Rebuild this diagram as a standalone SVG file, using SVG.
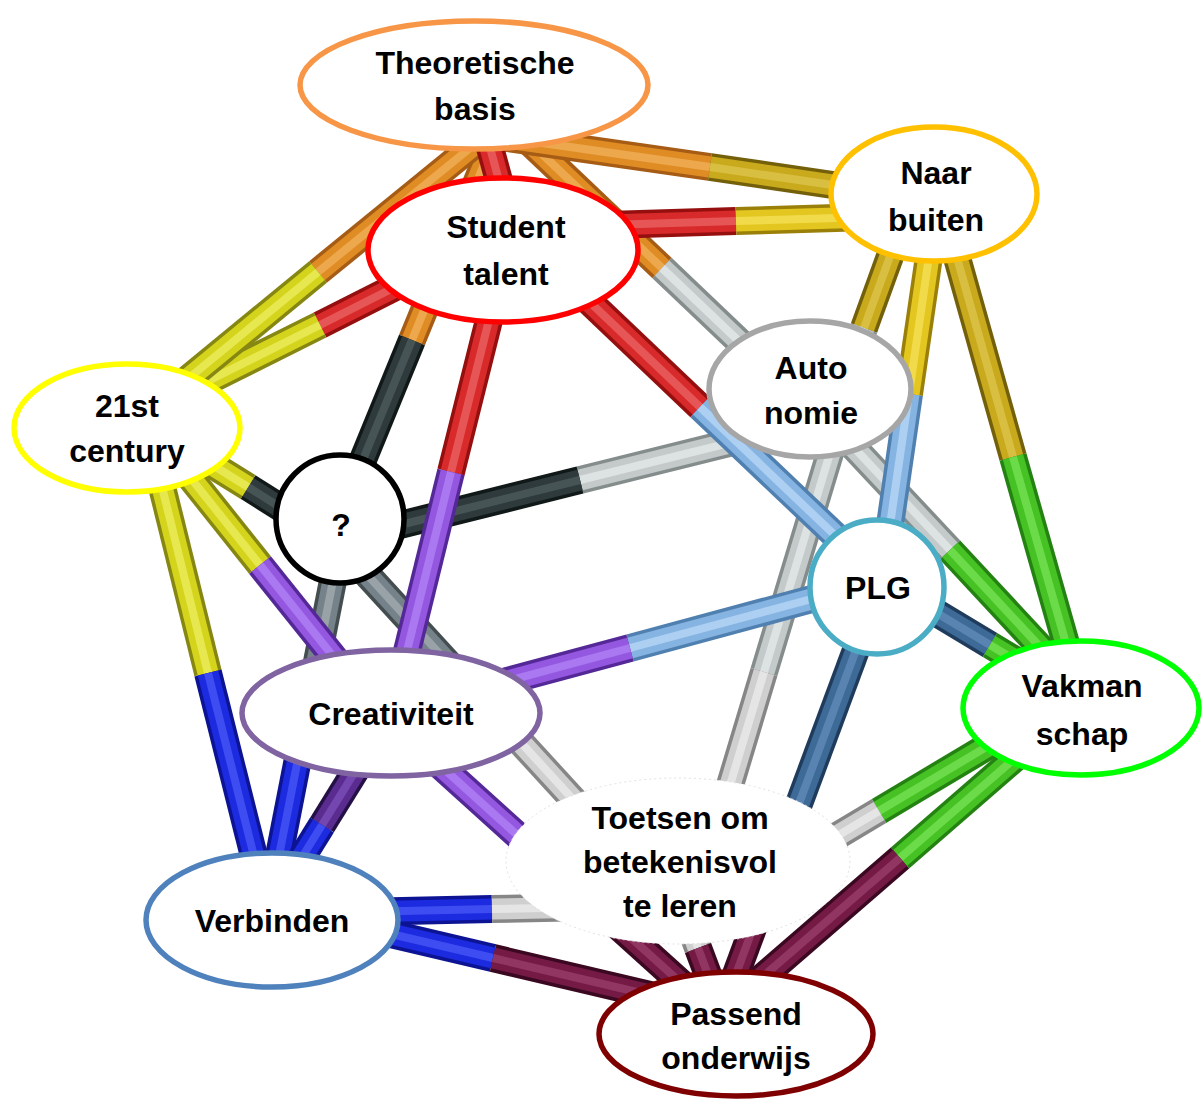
<svg xmlns="http://www.w3.org/2000/svg" width="1203" height="1099" viewBox="0 0 1203 1099">
<style>
text{font-family:"Liberation Sans",Arial,sans-serif;font-weight:bold;font-size:32px;text-anchor:middle;fill:#000}
.node ellipse,.node circle{fill:#fff;stroke-width:5.5}
#connectors line{fill:none;stroke-linecap:butt}
.o{stroke-width:28}.m{stroke-width:21}.h{stroke-width:8;stroke-opacity:.55}
.T .o{stroke:#a65c14}.T .m{stroke:#e08c24}.T .h{stroke:#f8c070}
.S .o{stroke:#960f0f}.S .m{stroke:#d82a2a}.S .h{stroke:#f27a7a}
.N .o{stroke:#9a8008}.N .m{stroke:#e4c620}.N .h{stroke:#fbec70}
.Nd .o{stroke:#74600a}.Nd .m{stroke:#c8aa1c}.Nd .h{stroke:#e8d060}
.C .o{stroke:#868612}.C .m{stroke:#d4d41c}.C .h{stroke:#f6f67a}
.A .o{stroke:#858c8c}.A .m{stroke:#c4c9c9}.A .h{stroke:#f2f5f5}
.Q .o{stroke:#101818}.Q .m{stroke:#2e3a3c}.Q .h{stroke:#5c6a6c}
.Qg .o{stroke:#444e50}.Qg .m{stroke:#76828a}.Qg .h{stroke:#b4bec0}
.P .o{stroke:#5080b0}.P .m{stroke:#86b4e2}.P .h{stroke:#cce6ff}
.Pd .o{stroke:#203c5c}.Pd .m{stroke:#3e6a98}.Pd .h{stroke:#7098c4}
.V .o{stroke:#248212}.V .m{stroke:#46c224}.V .h{stroke:#8cf068}
.Cr .o{stroke:#552898}.Cr .m{stroke:#9458e0}.Cr .h{stroke:#bc94ff}
.Crd .o{stroke:#241046}.Crd .m{stroke:#5a2c90}.Crd .h{stroke:#8a5cc8}
.Tt .o{stroke:#868686}.Tt .m{stroke:#cfcfcf}.Tt .h{stroke:#f8f8f8}
.Vb .o{stroke:#0c1494}.Vb .m{stroke:#1c2ae0}.Vb .h{stroke:#5a6aff}
.Po .o{stroke:#3a0820}.Po .m{stroke:#741a44}.Po .h{stroke:#aa4c7c}
</style>
<rect width="1203" height="1099" fill="#fff"/>
<g id="connectors">
<g class="A"><line class="o" x1="830" y1="418" x2="580" y2="480"/><line class="m" x1="830" y1="418" x2="580" y2="480"/><line class="h" x1="830" y1="418" x2="580" y2="480"/></g>
<g class="Q"><line class="o" x1="580" y1="480" x2="340" y2="540"/><line class="m" x1="580" y1="480" x2="340" y2="540"/><line class="h" x1="580" y1="480" x2="340" y2="540"/></g>
<g class="A"><line class="o" x1="840" y1="420" x2="764" y2="672"/><line class="m" x1="840" y1="420" x2="764" y2="672"/><line class="h" x1="840" y1="420" x2="764" y2="672"/></g>
<g class="Tt"><line class="o" x1="764" y1="672" x2="688" y2="925"/><line class="m" x1="764" y1="672" x2="688" y2="925"/><line class="h" x1="764" y1="672" x2="688" y2="925"/></g>
<g class="Qg"><line class="o" x1="340" y1="545" x2="514" y2="735"/><line class="m" x1="340" y1="545" x2="514" y2="735"/><line class="h" x1="340" y1="545" x2="514" y2="735"/></g>
<g class="Tt"><line class="o" x1="514" y1="735" x2="688" y2="925"/><line class="m" x1="514" y1="735" x2="688" y2="925"/><line class="h" x1="514" y1="735" x2="688" y2="925"/></g>
<g class="Qg"><line class="o" x1="340" y1="545" x2="304" y2="728"/><line class="m" x1="340" y1="545" x2="304" y2="728"/><line class="h" x1="340" y1="545" x2="304" y2="728"/></g>
<g class="Vb"><line class="o" x1="304" y1="728" x2="268" y2="912"/><line class="m" x1="304" y1="728" x2="268" y2="912"/><line class="h" x1="304" y1="728" x2="268" y2="912"/></g>
<g class="Pd"><line class="o" x1="882" y1="580" x2="990" y2="645"/><line class="m" x1="882" y1="580" x2="990" y2="645"/><line class="h" x1="882" y1="580" x2="990" y2="645"/></g>
<g class="V"><line class="o" x1="990" y1="645" x2="1082" y2="700"/><line class="m" x1="990" y1="645" x2="1082" y2="700"/><line class="h" x1="990" y1="645" x2="1082" y2="700"/></g>
<g class="A"><line class="o" x1="830" y1="422" x2="950" y2="550"/><line class="m" x1="830" y1="422" x2="950" y2="550"/><line class="h" x1="830" y1="422" x2="950" y2="550"/></g>
<g class="V"><line class="o" x1="950" y1="550" x2="1082" y2="692"/><line class="m" x1="950" y1="550" x2="1082" y2="692"/><line class="h" x1="950" y1="550" x2="1082" y2="692"/></g>
<g class="T"><line class="o" x1="522" y1="135" x2="662" y2="268"/><line class="m" x1="522" y1="135" x2="662" y2="268"/><line class="h" x1="522" y1="135" x2="662" y2="268"/></g>
<g class="A"><line class="o" x1="662" y1="268" x2="830" y2="428"/><line class="m" x1="662" y1="268" x2="830" y2="428"/><line class="h" x1="662" y1="268" x2="830" y2="428"/></g>
<g class="Cr"><line class="o" x1="392" y1="722" x2="557" y2="871"/><line class="m" x1="392" y1="722" x2="557" y2="871"/><line class="h" x1="392" y1="722" x2="557" y2="871"/></g>
<g class="Po"><line class="o" x1="557" y1="871" x2="722" y2="1020"/><line class="m" x1="557" y1="871" x2="722" y2="1020"/><line class="h" x1="557" y1="871" x2="722" y2="1020"/></g>
<g class="T"><line class="o" x1="496" y1="135" x2="412" y2="340"/><line class="m" x1="496" y1="135" x2="412" y2="340"/><line class="h" x1="496" y1="135" x2="412" y2="340"/></g>
<g class="Q"><line class="o" x1="412" y1="340" x2="328" y2="545"/><line class="m" x1="412" y1="340" x2="328" y2="545"/><line class="h" x1="412" y1="340" x2="328" y2="545"/></g>
<g class="Q"><line class="o" x1="248" y1="487" x2="340" y2="545"/><line class="m" x1="248" y1="487" x2="340" y2="545"/><line class="h" x1="248" y1="487" x2="340" y2="545"/></g>
<g class="C"><line class="o" x1="140" y1="420" x2="248" y2="487"/><line class="m" x1="140" y1="420" x2="248" y2="487"/><line class="h" x1="140" y1="420" x2="248" y2="487"/></g>
<g class="S"><line class="o" x1="512" y1="228" x2="320" y2="325"/><line class="m" x1="512" y1="228" x2="320" y2="325"/><line class="h" x1="512" y1="228" x2="320" y2="325"/></g>
<g class="C"><line class="o" x1="320" y1="325" x2="150" y2="410"/><line class="m" x1="320" y1="325" x2="150" y2="410"/><line class="h" x1="320" y1="325" x2="150" y2="410"/></g>
<g class="T"><line class="o" x1="486" y1="135" x2="318" y2="272"/><line class="m" x1="486" y1="135" x2="318" y2="272"/><line class="h" x1="486" y1="135" x2="318" y2="272"/></g>
<g class="C"><line class="o" x1="318" y1="272" x2="150" y2="410"/><line class="m" x1="318" y1="272" x2="150" y2="410"/><line class="h" x1="318" y1="272" x2="150" y2="410"/></g>
<g class="T"><line class="o" x1="486" y1="135" x2="710" y2="167"/><line class="m" x1="486" y1="135" x2="710" y2="167"/><line class="h" x1="486" y1="135" x2="710" y2="167"/></g>
<g class="Nd"><line class="o" x1="710" y1="167" x2="935" y2="200"/><line class="m" x1="710" y1="167" x2="935" y2="200"/><line class="h" x1="710" y1="167" x2="935" y2="200"/></g>
<g class="S"><line class="o" x1="512" y1="228" x2="736" y2="221"/><line class="m" x1="512" y1="228" x2="736" y2="221"/><line class="h" x1="512" y1="228" x2="736" y2="221"/></g>
<g class="N"><line class="o" x1="736" y1="221" x2="935" y2="215"/><line class="m" x1="736" y1="221" x2="935" y2="215"/><line class="h" x1="736" y1="221" x2="935" y2="215"/></g>
<g class="T"><line class="o" x1="486" y1="135" x2="489" y2="144"/><line class="m" x1="486" y1="135" x2="489" y2="144"/><line class="h" x1="486" y1="135" x2="489" y2="144"/></g>
<g class="S"><line class="o" x1="489" y1="144" x2="512" y2="228"/><line class="m" x1="489" y1="144" x2="512" y2="228"/><line class="h" x1="489" y1="144" x2="512" y2="228"/></g>
<g class="Nd"><line class="o" x1="905" y1="215" x2="864" y2="328"/><line class="m" x1="905" y1="215" x2="864" y2="328"/><line class="h" x1="905" y1="215" x2="864" y2="328"/></g>
<g class="A"><line class="o" x1="864" y1="328" x2="830" y2="420"/><line class="m" x1="864" y1="328" x2="830" y2="420"/><line class="h" x1="864" y1="328" x2="830" y2="420"/></g>
<g class="N"><line class="o" x1="935" y1="215" x2="909" y2="394"/><line class="m" x1="935" y1="215" x2="909" y2="394"/><line class="h" x1="935" y1="215" x2="909" y2="394"/></g>
<g class="P"><line class="o" x1="909" y1="394" x2="882" y2="580"/><line class="m" x1="909" y1="394" x2="882" y2="580"/><line class="h" x1="909" y1="394" x2="882" y2="580"/></g>
<g class="Nd"><line class="o" x1="945" y1="215" x2="1013" y2="457"/><line class="m" x1="945" y1="215" x2="1013" y2="457"/><line class="h" x1="945" y1="215" x2="1013" y2="457"/></g>
<g class="V"><line class="o" x1="1013" y1="457" x2="1082" y2="700"/><line class="m" x1="1013" y1="457" x2="1082" y2="700"/><line class="h" x1="1013" y1="457" x2="1082" y2="700"/></g>
<g class="P"><line class="o" x1="882" y1="580" x2="630" y2="648"/><line class="m" x1="882" y1="580" x2="630" y2="648"/><line class="h" x1="882" y1="580" x2="630" y2="648"/></g>
<g class="Cr"><line class="o" x1="630" y1="648" x2="392" y2="712"/><line class="m" x1="630" y1="648" x2="392" y2="712"/><line class="h" x1="630" y1="648" x2="392" y2="712"/></g>
<g class="S"><line class="o" x1="512" y1="228" x2="700" y2="407"/><line class="m" x1="512" y1="228" x2="700" y2="407"/><line class="h" x1="512" y1="228" x2="700" y2="407"/></g>
<g class="P"><line class="o" x1="700" y1="407" x2="882" y2="580"/><line class="m" x1="700" y1="407" x2="882" y2="580"/><line class="h" x1="700" y1="407" x2="882" y2="580"/></g>
<g class="S"><line class="o" x1="512" y1="228" x2="451" y2="472"/><line class="m" x1="512" y1="228" x2="451" y2="472"/><line class="h" x1="512" y1="228" x2="451" y2="472"/></g>
<g class="Cr"><line class="o" x1="451" y1="472" x2="392" y2="712"/><line class="m" x1="451" y1="472" x2="392" y2="712"/><line class="h" x1="451" y1="472" x2="392" y2="712"/></g>
<g class="C"><line class="o" x1="150" y1="427" x2="260" y2="565"/><line class="m" x1="150" y1="427" x2="260" y2="565"/><line class="h" x1="150" y1="427" x2="260" y2="565"/></g>
<g class="Cr"><line class="o" x1="260" y1="565" x2="392" y2="730"/><line class="m" x1="260" y1="565" x2="392" y2="730"/><line class="h" x1="260" y1="565" x2="392" y2="730"/></g>
<g class="C"><line class="o" x1="143" y1="410" x2="208" y2="673"/><line class="m" x1="143" y1="410" x2="208" y2="673"/><line class="h" x1="143" y1="410" x2="208" y2="673"/></g>
<g class="Vb"><line class="o" x1="208" y1="673" x2="268" y2="912"/><line class="m" x1="208" y1="673" x2="268" y2="912"/><line class="h" x1="208" y1="673" x2="268" y2="912"/></g>
<g class="Crd"><line class="o" x1="392" y1="712" x2="322" y2="825"/><line class="m" x1="392" y1="712" x2="322" y2="825"/><line class="h" x1="392" y1="712" x2="322" y2="825"/></g>
<g class="Vb"><line class="o" x1="322" y1="825" x2="268" y2="912"/><line class="m" x1="322" y1="825" x2="268" y2="912"/><line class="h" x1="322" y1="825" x2="268" y2="912"/></g>
<g class="Pd"><line class="o" x1="882" y1="580" x2="797" y2="809"/><line class="m" x1="882" y1="580" x2="797" y2="809"/><line class="h" x1="882" y1="580" x2="797" y2="809"/></g>
<g class="Po"><line class="o" x1="797" y1="809" x2="722" y2="1012"/><line class="m" x1="797" y1="809" x2="722" y2="1012"/><line class="h" x1="797" y1="809" x2="722" y2="1012"/></g>
<g class="V"><line class="o" x1="1082" y1="690" x2="879" y2="811"/><line class="m" x1="1082" y1="690" x2="879" y2="811"/><line class="h" x1="1082" y1="690" x2="879" y2="811"/></g>
<g class="Tt"><line class="o" x1="879" y1="811" x2="688" y2="925"/><line class="m" x1="879" y1="811" x2="688" y2="925"/><line class="h" x1="879" y1="811" x2="688" y2="925"/></g>
<g class="V"><line class="o" x1="1082" y1="700" x2="900" y2="858"/><line class="m" x1="1082" y1="700" x2="900" y2="858"/><line class="h" x1="1082" y1="700" x2="900" y2="858"/></g>
<g class="Po"><line class="o" x1="900" y1="858" x2="722" y2="1012"/><line class="m" x1="900" y1="858" x2="722" y2="1012"/><line class="h" x1="900" y1="858" x2="722" y2="1012"/></g>
<g class="Vb"><line class="o" x1="268" y1="914" x2="492" y2="909"/><line class="m" x1="268" y1="914" x2="492" y2="909"/><line class="h" x1="268" y1="914" x2="492" y2="909"/></g>
<g class="Tt"><line class="o" x1="492" y1="909" x2="688" y2="905"/><line class="m" x1="492" y1="909" x2="688" y2="905"/><line class="h" x1="492" y1="909" x2="688" y2="905"/></g>
<g class="Tt"><line class="o" x1="688" y1="920" x2="698" y2="948"/><line class="m" x1="688" y1="920" x2="698" y2="948"/><line class="h" x1="688" y1="920" x2="698" y2="948"/></g>
<g class="Po"><line class="o" x1="698" y1="948" x2="722" y2="1012"/><line class="m" x1="698" y1="948" x2="722" y2="1012"/><line class="h" x1="698" y1="948" x2="722" y2="1012"/></g>
<g class="Vb"><line class="o" x1="268" y1="905" x2="493" y2="958"/><line class="m" x1="268" y1="905" x2="493" y2="958"/><line class="h" x1="268" y1="905" x2="493" y2="958"/></g>
<g class="Po"><line class="o" x1="493" y1="958" x2="722" y2="1012"/><line class="m" x1="493" y1="958" x2="722" y2="1012"/><line class="h" x1="493" y1="958" x2="722" y2="1012"/></g>
</g>
<g id="n-theoretische" class="node"><ellipse cx="474" cy="85" rx="174" ry="64" stroke="#f79646"/><text x="475" y="74">Theoretische</text><text x="475" y="120">basis</text></g>
<g id="n-student" class="node"><ellipse cx="503" cy="250" rx="135" ry="72" stroke="#ff0000"/><text x="506" y="238">Student</text><text x="506" y="285">talent</text></g>
<g id="n-naar" class="node"><ellipse cx="934" cy="194" rx="103" ry="67" stroke="#ffc000"/><text x="936" y="184">Naar</text><text x="936" y="231">buiten</text></g>
<g id="n-auto" class="node"><ellipse cx="810" cy="389" rx="101" ry="68" stroke="#a6a6a6"/><text x="811" y="379">Auto</text><text x="811" y="424">nomie</text></g>
<g id="n-21st" class="node"><ellipse cx="127" cy="428" rx="113" ry="64" stroke="#ffff00"/><text x="127" y="417">21st</text><text x="127" y="462">century</text></g>
<g id="n-vraag" class="node"><circle cx="340" cy="519" r="64" stroke="#000"/><text x="341" y="536">?</text></g>
<g id="n-plg" class="node"><circle cx="877" cy="587" r="67" stroke="#4bacc6"/><text x="878" y="599">PLG</text></g>
<g id="n-vakman" class="node"><ellipse cx="1081" cy="708" rx="118" ry="67" stroke="#00ff00"/><text x="1082" y="697">Vakman</text><text x="1082" y="745">schap</text></g>
<g id="n-creativiteit" class="node"><ellipse cx="391" cy="713" rx="149" ry="63" stroke="#8064a2"/><text x="391" y="725">Creativiteit</text></g>
<g id="n-toetsen" class="node"><ellipse cx="678" cy="861" rx="172" ry="83" stroke="#e2e2e2" style="stroke-width:1;stroke-dasharray:2 3"/><text x="680" y="829">Toetsen om</text><text x="680" y="873">betekenisvol</text><text x="680" y="917">te leren</text></g>
<g id="n-verbinden" class="node"><ellipse cx="272" cy="920" rx="126" ry="67" stroke="#4f81bd"/><text x="272" y="932">Verbinden</text></g>
<g id="n-passend" class="node"><ellipse cx="736" cy="1034" rx="137" ry="62" stroke="#7f0000"/><text x="736" y="1025">Passend</text><text x="736" y="1069">onderwijs</text></g>
</svg>
